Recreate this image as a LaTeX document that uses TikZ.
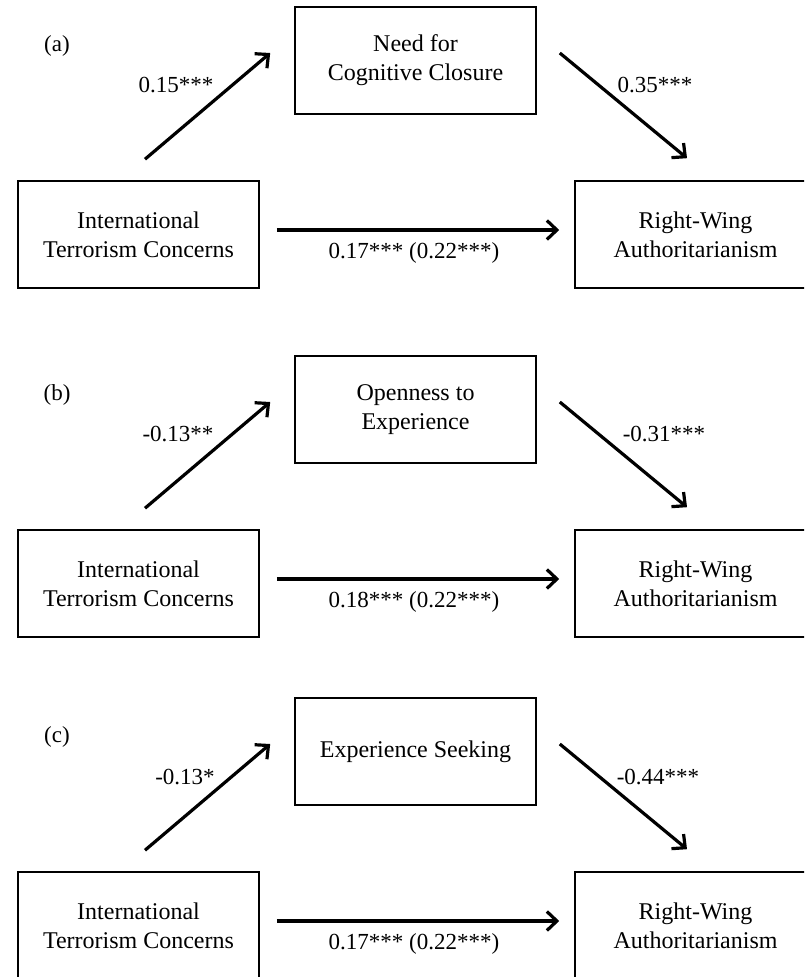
\documentclass[tikz,border=0pt]{standalone}
\usepackage{fontspec}
\setmainfont{Liberation Serif}
\usetikzlibrary{arrows.meta}

\begin{document}
\begin{tikzpicture}[x=0.5pt,y=-0.5pt,
  every node/.style={font=\fontsize{11.5pt}{14.5pt}\selectfont,text=black},
  var/.style={draw,line width=0.8pt,minimum width=120.5pt,minimum height=53.5pt,inner sep=0pt,align=center,
    font=\fontsize{12pt}{14.5pt}\selectfont},
  arr/.style={line width=1.6pt,-{Straight Barb[length=5pt,width=9.5pt]}},
  coef/.style={inner sep=0pt}]
  \useasboundingbox (0,0) rectangle (804,977);
  \clip (0,0) rectangle (804,977);

  % (a) need for closure
  \node (tagA) at (57,46) {(a)};
  \node[var] (medA) at (415.5,60.5) {Need for\\Cognitive Closure};
  \node[var] (itcA) at (138.5,234.5) {International\\Terrorism Concerns};
  \node[var] (rwaA) at (695.5,234.5) {Right-Wing\\Authoritarianism};
  \draw[arr] ([shift={(6.5,-21)}]itcA.north) -- ([shift={(-24,-7.5)}]medA.west);
  \draw[arr] ([shift={(23,-7.5)}]medA.east) -- ([shift={(-8.5,-22)}]rwaA.north);
  \draw[arr] ([shift={(17,-4.5)}]itcA.east) -- ([shift={(-15,-4.5)}]rwaA.west);
  \node[coef] (pathA1) at (176,85) {0.15***};
  \node[coef] (pathA2) at (655,85) {0.35***};
  \node[coef] (pathA3) at (414,253) {0.17*** (0.22***)};

  % (b) openness
  \begin{scope}[shift={(0,349)}]
  \node (tagB) at (57,46) {(b)};
  \node[var] (medB) at (415.5,60.5) {Openness to\\Experience};
  \node[var] (itcB) at (138.5,234.5) {International\\Terrorism Concerns};
  \node[var] (rwaB) at (695.5,234.5) {Right-Wing\\Authoritarianism};
  \draw[arr] ([shift={(6.5,-21)}]itcB.north) -- ([shift={(-24,-7.5)}]medB.west);
  \draw[arr] ([shift={(23,-7.5)}]medB.east) -- ([shift={(-8.5,-22)}]rwaB.north);
  \draw[arr] ([shift={(17,-4.5)}]itcB.east) -- ([shift={(-15,-4.5)}]rwaB.west);
  \node[coef] (pathB1) at (178,85) {-0.13**};
  \node[coef] (pathB2) at (664,85) {-0.31***};
  \node[coef] (pathB3) at (414,253) {0.18*** (0.22***)};
  \end{scope}

  % (c) experience seeking
  \begin{scope}[shift={(0,691)}]
  \node (tagC) at (57,46) {(c)};
  \node[var] (medC) at (415.5,60.5) {Experience Seeking};
  \node[var] (itcC) at (138.5,234.5) {International\\Terrorism Concerns};
  \node[var] (rwaC) at (695.5,234.5) {Right-Wing\\Authoritarianism};
  \draw[arr] ([shift={(6.5,-21)}]itcC.north) -- ([shift={(-24,-7.5)}]medC.west);
  \draw[arr] ([shift={(23,-7.5)}]medC.east) -- ([shift={(-8.5,-22)}]rwaC.north);
  \draw[arr] ([shift={(17,-4.5)}]itcC.east) -- ([shift={(-15,-4.5)}]rwaC.west);
  \node[coef] (pathC1) at (185,86) {-0.13*};
  \node[coef] (pathC2) at (658,86) {-0.44***};
  \node[coef] (pathC3) at (414,253) {0.17*** (0.22***)};
  \end{scope}
\end{tikzpicture}
\end{document}
